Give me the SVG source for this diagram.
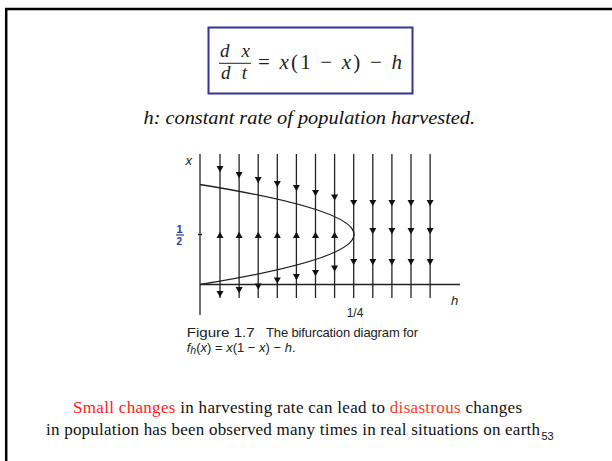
<svg xmlns="http://www.w3.org/2000/svg" width="612" height="461" viewBox="0 0 612 461">
<style>
.serif{font-family:"Liberation Serif","Times New Roman",serif}
.sans{font-family:"Liberation Sans",Arial,sans-serif}
.eq{font-family:"Liberation Serif","Times New Roman",serif;font-size:21px;fill:#222}
.fr{font-family:"Liberation Serif","Times New Roman",serif;font-size:19px;fill:#222;font-style:italic}
.it{font-style:italic}
.gl{stroke:#222;stroke-width:1.3;fill:none}
.cap{font-family:"Liberation Sans",Arial,sans-serif;font-size:13px;fill:#222}
</style>
<defs>
<path id="ad" d="M-3.5,-3 L3.5,-3 L0,3.2 Z" fill="#111"/>
<path id="au" d="M-3.5,3 L3.5,3 L0,-3.2 Z" fill="#111"/>
</defs>
<rect width="612" height="461" fill="#fff"/>
<g id="frame"><rect x="6.2" y="9" width="620" height="470" fill="none" stroke="#000" stroke-width="2.5"/></g>

<g id="equation">
<rect x="208.5" y="27.5" width="204" height="66" fill="#fff" stroke="#33339a" stroke-width="2"/>
<text class="fr" x="220" y="57" textLength="30" lengthAdjust="spacing">d x</text>
<line x1="219" y1="63.3" x2="251" y2="63.3" stroke="#222" stroke-width="1"/>
<text class="fr" x="221" y="78.5" textLength="26" lengthAdjust="spacing">d t</text>
<text class="eq" x="258" y="69" textLength="144" lengthAdjust="spacing">= <tspan class="it">x</tspan>(1 − <tspan class="it">x</tspan>) − <tspan class="it">h</tspan></text>
</g>

<g id="subtitle"><text class="serif it" x="143.5" y="123.5" font-size="18" fill="#111" textLength="331.5" lengthAdjust="spacingAndGlyphs">h: constant rate of population harvested.</text></g>

<g id="figure">
<line class="gl" x1="200" y1="154" x2="200" y2="315"/>
<line class="gl" x1="200" y1="284.5" x2="460" y2="284.5"/>
<line class="gl" x1="198" y1="234.5" x2="202" y2="234.5"/>
<path class="gl" d="M200,184.5 Q508,234.5 200,284.5"/>
<g id="flowlines" class="gl">
<line x1="220" y1="154" x2="220" y2="298"/>
<line x1="239.1" y1="154" x2="239.1" y2="298"/>
<line x1="258.2" y1="154" x2="258.2" y2="298"/>
<line x1="277.3" y1="154" x2="277.3" y2="298"/>
<line x1="296.4" y1="154" x2="296.4" y2="298"/>
<line x1="315.5" y1="154" x2="315.5" y2="298"/>
<line x1="334.6" y1="154" x2="334.6" y2="298"/>
<line x1="353.7" y1="154" x2="353.7" y2="298"/>
<line x1="372.8" y1="154" x2="372.8" y2="298"/>
<line x1="391.9" y1="154" x2="391.9" y2="298"/>
<line x1="411" y1="154" x2="411" y2="298"/>
<line x1="430.1" y1="154" x2="430.1" y2="298"/>
</g>
<g id="arrows">
<use href="#ad" x="220" y="169"/><use href="#au" x="220" y="235"/><use href="#ad" x="220" y="294"/>
<use href="#ad" x="239.1" y="175"/><use href="#au" x="239.1" y="235"/><use href="#ad" x="239.1" y="290"/>
<use href="#ad" x="258.2" y="180"/><use href="#au" x="258.2" y="235"/><use href="#ad" x="258.2" y="286.5"/>
<use href="#ad" x="277.3" y="184"/><use href="#au" x="277.3" y="235"/><use href="#ad" x="277.3" y="280.5"/>
<use href="#ad" x="296.4" y="188"/><use href="#au" x="296.4" y="235"/><use href="#ad" x="296.4" y="277"/>
<use href="#ad" x="315.5" y="193"/><use href="#au" x="315.5" y="235"/><use href="#ad" x="315.5" y="273"/>
<use href="#ad" x="334.6" y="197.5"/><use href="#au" x="334.6" y="235"/><use href="#ad" x="334.6" y="268.5"/>
<use href="#ad" x="353.7" y="203"/><use href="#ad" x="353.7" y="262"/>
<use href="#ad" x="372.8" y="203"/><use href="#ad" x="372.8" y="231"/><use href="#ad" x="372.8" y="262"/>
<use href="#ad" x="391.9" y="203"/><use href="#ad" x="391.9" y="231"/><use href="#ad" x="391.9" y="262"/>
<use href="#ad" x="411" y="203"/><use href="#ad" x="411" y="231"/><use href="#ad" x="411" y="262"/>
<use href="#ad" x="430.1" y="203"/><use href="#ad" x="430.1" y="231"/><use href="#ad" x="430.1" y="262"/>
</g>
<text class="sans it" x="185.5" y="165" font-size="13" fill="#222">x</text>
<text class="sans it" x="451" y="305" font-size="13" fill="#222">h</text>
<g id="half" fill="#2b3a8f">
<text class="sans" x="176.5" y="233" font-size="11" font-weight="bold">1</text>
<line x1="176" y1="235" x2="184" y2="235" stroke="#2b3a8f" stroke-width="1.2"/>
<text class="sans" x="176.5" y="244.5" font-size="10" font-weight="bold">2</text>
</g>
<text class="sans" x="355" y="317" font-size="12" fill="#222" text-anchor="middle">1/4</text>
<text class="cap" x="186.7" y="337" font-size="13.5" textLength="68" lengthAdjust="spacingAndGlyphs">Figure 1.7</text>
<text class="cap" x="266" y="337" textLength="152" lengthAdjust="spacing">The bifurcation diagram for</text>
<text class="cap" x="186.7" y="352" font-size="13.5"><tspan class="it">f</tspan><tspan class="it" font-size="10.5" dy="2">h</tspan><tspan dy="-2">(</tspan><tspan class="it">x</tspan>) = <tspan class="it">x</tspan>(1 − <tspan class="it">x</tspan>) − <tspan class="it">h</tspan>.</text>
</g>

<g id="conclusion" class="serif" font-size="17" fill="#111">
<text x="73" y="413" textLength="449" lengthAdjust="spacing"><tspan fill="#ff1a1a">Small changes</tspan> in harvesting rate can lead to <tspan fill="#ff3a1a">disastrous</tspan> changes</text>
<text x="46" y="435" textLength="494" lengthAdjust="spacing">in population has been observed many times in real situations on earth</text>
</g>
<text class="sans" x="541.5" y="440" font-size="11" fill="#111">53</text>
</svg>
